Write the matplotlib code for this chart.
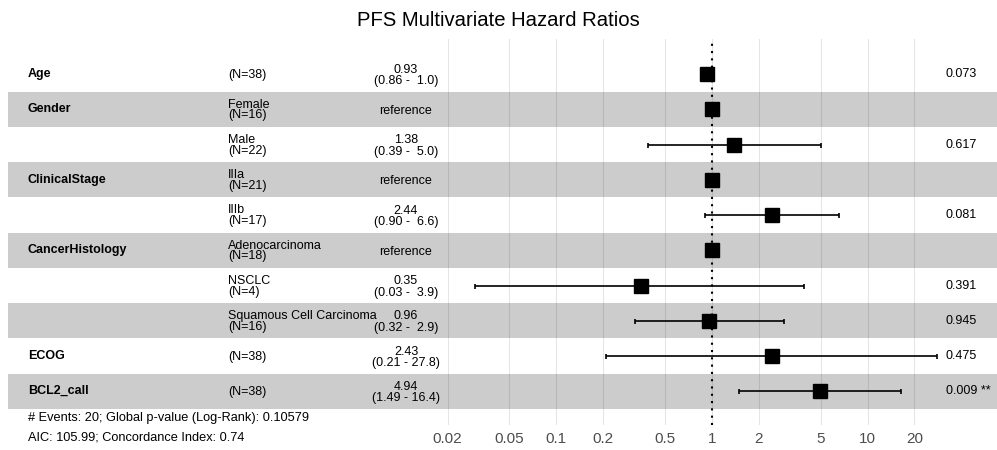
import numpy as np
import matplotlib
matplotlib.use('Agg')
import matplotlib.pyplot as plt
from matplotlib.transforms import blended_transform_factory

plt.rcParams['font.family'] = ['Liberation Sans', 'DejaVu Sans']

# rows of the forest table, top to bottom
variables = ['Age', 'Gender', '', 'ClinicalStage', '', 'CancerHistology', '', '', 'ECOG', 'BCL2_call']
levels = ['', 'Female', 'Male', 'IIIa', 'IIIb', 'Adenocarcinoma', 'NSCLC',
          'Squamous Cell Carcinoma', '', '']
n_obs = [38, 16, 22, 21, 17, 18, 4, 16, 38, 38]
hr = [0.93, 1.0, 1.38, 1.0, 2.44, 1.0, 0.35, 0.96, 2.43, 4.94]
ci_low = [0.86, None, 0.39, None, 0.90, None, 0.03, 0.32, 0.21, 1.49]
ci_high = [1.0, None, 5.0, None, 6.6, None, 3.9, 2.9, 27.8, 16.4]
hr_text = ['0.93', 'reference', '1.38', 'reference', '2.44', 'reference', '0.35', '0.96', '2.43', '4.94']
ci_text = ['(0.86 -  1.0)', '', '(0.39 -  5.0)', '', '(0.90 -  6.6)', '', '(0.03 -  3.9)',
           '(0.32 -  2.9)', '(0.21 - 27.8)', '(1.49 - 16.4)']
p_text = ['0.073', '', '0.617', '', '0.081', '', '0.391', '0.945', '0.475', '0.009 **']
breaks = [0.02, 0.05, 0.1, 0.2, 0.5, 1, 2, 5, 10, 20]

footer1 = '# Events: 20; Global p-value (Log-Rank): 0.10579'
footer2 = 'AIC: 105.99; Concordance Index: 0.74'

fig = plt.figure(figsize=(9.97, 4.5), dpi=100)
ax = fig.add_axes([8 / 997, 25 / 450, 989 / 997, 386 / 450])
ax.set_xscale('log')
ax.set_xlim(10 ** -4.524, 10 ** 1.832)
ax.set_ylim(9.96, -1.0)
for s in ax.spines.values():
    s.set_visible(False)

rows = np.arange(len(variables))

# alternating bands
for i in rows:
    if i % 2 == 1:
        ax.axhspan(i - 0.5, i + 0.5, color='#cccccc', lw=0, zorder=1)

# grid
for b in breaks:
    ax.axvline(b, color='black', alpha=0.1, lw=0.8, zorder=2)
ax.axvline(1, color='black', ls=(0, (1, 2.5)), lw=1.5, zorder=3)

# estimates
for i in rows:
    if ci_low[i] is not None:
        ax.errorbar(hr[i], i, xerr=[[hr[i] - ci_low[i]], [ci_high[i] - hr[i]]],
                    fmt='none', ecolor='black', elinewidth=1.2, capsize=1.8,
                    capthick=1.2, zorder=4)
    ax.plot(hr[i], i, marker='s', ms=10.5, color='black', zorder=5)

ax.set_xticks(breaks)
ax.set_xticklabels(['%g' % b for b in breaks])
ax.xaxis.set_minor_locator(matplotlib.ticker.NullLocator())
ax.tick_params(axis='x', length=0, pad=5, labelsize=11, labelcolor='#4d4d4d')
ax.set_yticks([])

tr = blended_transform_factory(ax.transAxes, ax.transData)
fs = 9
for i in rows:
    if variables[i]:
        ax.text(0.0202, i, variables[i], transform=tr, fontsize=fs, fontweight='bold',
                va='center', ha='left', zorder=6)
    lab = '(N=%d)' % n_obs[i]
    if levels[i]:
        lab = levels[i] + '\n' + lab
    ax.text(0.2224, i + 0.02, lab, transform=tr, fontsize=fs, va='center', ha='left',
            linespacing=0.85, zorder=6)
    est = hr_text[i] if not ci_text[i] else hr_text[i] + '\n' + ci_text[i]
    ax.text(0.4024, i + 0.04, est, transform=tr, fontsize=fs, va='center', ha='center',
            linespacing=0.95, zorder=6)
    if p_text[i]:
        ax.text(0.9484, i, p_text[i], transform=tr, fontsize=fs, va='center', ha='left',
                zorder=6)

fig.text(0.5, 1 - 20 / 450, 'PFS Multivariate Hazard Ratios', fontsize=14.6,
         ha='center', va='center')
fig.text(28 / 997, 1 - 418 / 450, footer1, fontsize=9.2, ha='left', va='center')
fig.text(28 / 997, 1 - 437 / 450, footer2, fontsize=9.2, ha='left', va='center')

fig.savefig('out.png', dpi=100)
